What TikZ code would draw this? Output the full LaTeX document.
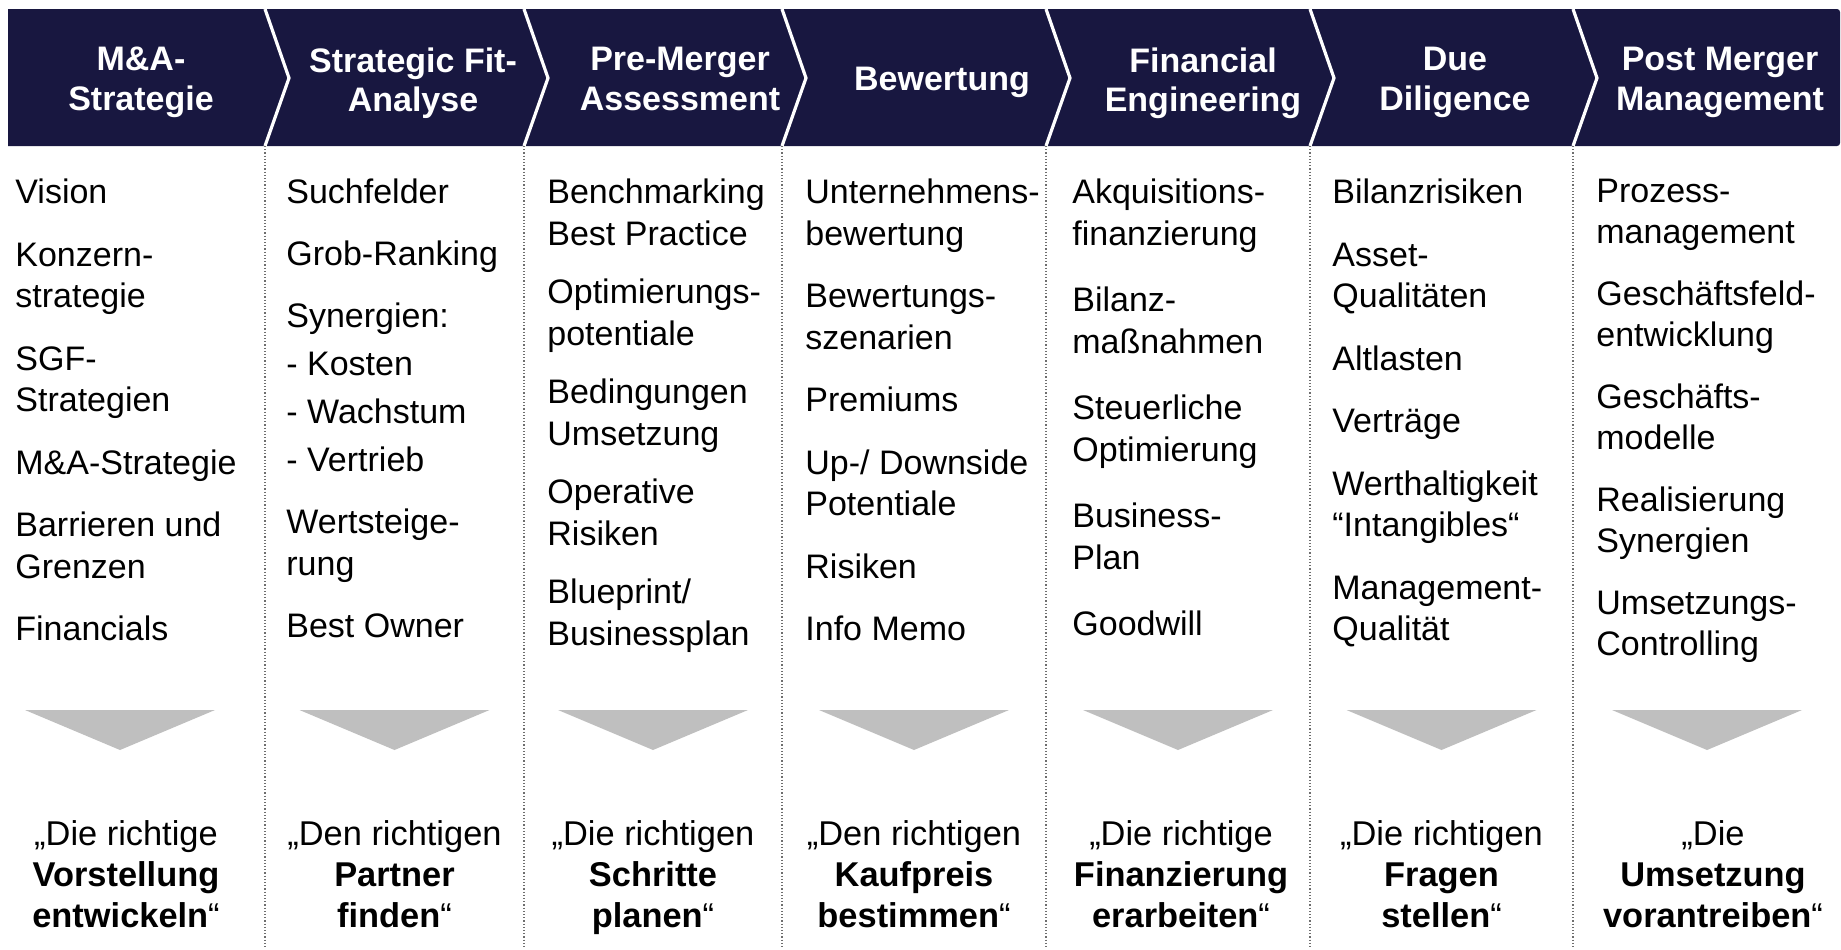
\documentclass[tikz,border=0pt]{standalone}
\usepackage{fontspec}
\setmainfont{Liberation Sans}
\usetikzlibrary{positioning}
\definecolor{headblue}{RGB}{24,23,64}
\definecolor{funnelgray}{RGB}{191,191,191}
\definecolor{dotgray}{RGB}{110,110,110}
\tikzset{
    header/.style = {fill=headblue, draw=none},
    chevron/.style = {draw=white, line width=1.6pt, line join=miter},
    divider/.style = {draw=dotgray, densely dotted, line width=0.6pt},
    funnel/.style = {fill=funnelgray, draw=none},
    headtext/.style = {text=white, font=\bfseries\fontsize{17}{19.75}\selectfont, align=center, inner sep=0pt, anchor=north},
    bodytext/.style = {font=\fontsize{17}{20.75}\selectfont, align=left, inner sep=0pt, anchor=north west},
    goaltext/.style = {font=\fontsize{17.2}{20.5}\selectfont, align=center, inner sep=0pt, anchor=north}
}

\begin{document}
\begin{tikzpicture}[x=0.5pt, y=-0.5pt]
  \useasboundingbox (0,0) rectangle (1841,949);

  % header band
  \fill[header] (8,146) -- (8,9) [rounded corners=1.5pt] -- (1840,9) -- (1840,146) [sharp corners] -- cycle;

  % chevrons and dotted dividers
  \foreach \s [count=\i] in {265,524,782,1046,1310,1573} {
    \draw[chevron] (\s,9) -- (\s+24,78) -- (\s,146);
    \coordinate (sep\i) at (\s,146);
    \draw[divider] (sep\i) -- (\s,949);
  }

  % phase titles
  \node[headtext] (h1) at (141,47)  {M\&A-\\Strategie};
  \node[headtext] (h2) at (413,47)  {Strategic Fit-\\Analyse};
  \node[headtext] (h3) at (680,47)  {Pre-Merger\\Assessment};
  \node[headtext] (h4) at (942,67)  {Bewertung};
  \node[headtext] (h5) at (1203,47) {Financial\\Engineering};
  \node[headtext] (h6) at (1455,47) {Due\\Diligence};
  \node[headtext] (h7) at (1720,47) {Post Merger\\Management};

  % topics per phase
  \node[bodytext] (b1) at (15,178.5) {Vision\\[10.5pt]
    Konzern-\\strategie\\[10.5pt]
    SGF-\\Strategien\\[10.5pt]
    M\&A-Strategie\\[10.5pt]
    Barrieren und\\Grenzen\\[10.5pt]
    Financials};
  \node[bodytext] (b2) at (286,178.5) {Suchfelder\\[10.25pt]
    Grob-Ranking\\[10.25pt]
    Synergien:\\[3.3pt]
    - Kosten\\[3.3pt]
    - Wachstum\\[3.3pt]
    - Vertrieb\\[10.25pt]
    Wertsteige-\\rung\\[10.25pt]
    Best Owner};
  \node[bodytext] (b3) at (547,178.5) {Benchmarking\\Best Practice\\[8.5pt]
    Optimierungs-\\potentiale\\[8.5pt]
    Bedingungen\\Umsetzung\\[8.5pt]
    Operative\\Risiken\\[8.5pt]
    Blueprint/\\Businessplan};
  \node[bodytext] (b4) at (805,178.5) {Unternehmens-\\bewertung\\[10.5pt]
    Bewertungs-\\szenarien\\[10.5pt]
    Premiums\\[10.5pt]
    Up-/ Downside\\Potentiale\\[10.5pt]
    Risiken\\[10.5pt]
    Info Memo};
  \node[bodytext] (b5) at (1072,178.5) {Akquisitions-\\finanzierung\\[12.5pt]
    Bilanz-\\maßnahmen\\[12.5pt]
    Steuerliche\\Optimierung\\[12.5pt]
    Business-\\Plan\\[12.5pt]
    Goodwill};
  \node[bodytext] (b6) at (1332,178.5) {Bilanzrisiken\\[10.5pt]
    Asset-\\Qualitäten\\[10.5pt]
    Altlasten\\[10.5pt]
    Verträge\\[10.5pt]
    Werthaltigkeit\\“Intangibles“\\[10.5pt]
    Management-\\Qualität};
  \node[bodytext] (b7) at (1596,178.5) {Prozess-\\management\\[10pt]
    Geschäftsfeld-\\entwicklung\\[10pt]
    Geschäfts-\\modelle\\[10pt]
    Realisierung\\Synergien\\[10pt]
    Umsetzungs-\\Controlling};

  % funnels
  \foreach \c in {120,394.5,653,914,1178,1441.5,1707}
    \fill[funnel] (\c-95,710) -- (\c+95,710) -- (\c,750) -- cycle;

  % goals
  \node[goaltext] (g1) at (126,820.5)    {„Die richtige\\\textbf{Vorstellung}\\\textbf{entwickeln}“};
  \node[goaltext] (g2) at (394.5,820.5)  {„Den richtigen\\\textbf{Partner}\\\textbf{finden}“};
  \node[goaltext] (g3) at (653,820.5)    {„Die richtigen\\\textbf{Schritte}\\\textbf{planen}“};
  \node[goaltext] (g4) at (914,820.5)    {„Den richtigen\\\textbf{Kaufpreis}\\\textbf{bestimmen}“};
  \node[goaltext] (g5) at (1181,820.5)   {„Die richtige\\\textbf{Finanzierung}\\\textbf{erarbeiten}“};
  \node[goaltext] (g6) at (1441.5,820.5) {„Die richtigen\\\textbf{Fragen}\\\textbf{stellen}“};
  \node[goaltext] (g7) at (1713,820.5)   {„Die\\\textbf{Umsetzung}\\\textbf{vorantreiben}“};
\end{tikzpicture}
\end{document}
